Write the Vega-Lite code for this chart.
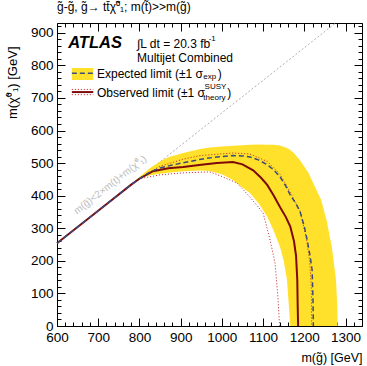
{
  "$schema": "https://vega.github.io/schema/vega-lite/v6.json",
  "width": 305,
  "height": 303,
  "autosize": {"type": "none"},
  "padding": {"left": 57, "top": 23, "right": 5, "bottom": 40},
  "background": "white",
  "title": {"text": "g̃-g̃, g̃→ tt̄χ̃⁰₁; m(t̃)>>m(g̃)", "anchor": "start", "frame": "group", "font": "Liberation Sans", "fontSize": 12, "fontWeight": "normal", "offset": 5, "color": "black"},
  "config": {"view": {"stroke": null}, "font": "Liberation Sans"},
  "datasets": {
    "diag": [{"x": 600, "y": 254}, {"x": 1276, "y": 930}],
    "band": [
      {"x": 785, "lo": 439, "hi": 439}, {"x": 801, "lo": 455, "hi": 459}, {"x": 826, "lo": 463, "hi": 485},
      {"x": 850, "lo": 467, "hi": 505}, {"x": 870, "lo": 470, "hi": 518}, {"x": 906, "lo": 475, "hi": 531},
      {"x": 947, "lo": 477, "hi": 543}, {"x": 971, "lo": 476, "hi": 548}, {"x": 1000, "lo": 466, "hi": 551},
      {"x": 1027, "lo": 448, "hi": 553}, {"x": 1050, "lo": 425, "hi": 555}, {"x": 1068, "lo": 408, "hi": 556},
      {"x": 1090, "lo": 375, "hi": 557}, {"x": 1110, "lo": 335, "hi": 556}, {"x": 1125, "lo": 295, "hi": 556},
      {"x": 1141, "lo": 243, "hi": 554}, {"x": 1150, "lo": 200, "hi": 550}, {"x": 1158, "lo": 141, "hi": 546},
      {"x": 1166, "lo": 0, "hi": 540}, {"x": 1175, "lo": 0, "hi": 530}, {"x": 1190, "lo": 0, "hi": 508},
      {"x": 1210, "lo": 0, "hi": 470}, {"x": 1225, "lo": 0, "hi": 430}, {"x": 1241, "lo": 0, "hi": 387},
      {"x": 1255, "lo": 0, "hi": 320}, {"x": 1267, "lo": 0, "hi": 240}, {"x": 1277, "lo": 0, "hi": 141},
      {"x": 1280, "lo": 0, "hi": 60}, {"x": 1281, "lo": 0, "hi": 0}
    ],
    "curves": [
      {"c": "exp", "x": 600, "y": 254}, {"c": "exp", "x": 700, "y": 354}, {"c": "exp", "x": 780, "y": 434},
      {"c": "exp", "x": 800, "y": 452}, {"c": "exp", "x": 825, "y": 472}, {"c": "exp", "x": 850, "y": 485},
      {"c": "exp", "x": 880, "y": 494}, {"c": "exp", "x": 906, "y": 501}, {"c": "exp", "x": 950, "y": 512},
      {"c": "exp", "x": 988, "y": 519}, {"c": "exp", "x": 1027, "y": 523}, {"c": "exp", "x": 1050, "y": 522},
      {"c": "exp", "x": 1068, "y": 519}, {"c": "exp", "x": 1090, "y": 509}, {"c": "exp", "x": 1110, "y": 495},
      {"c": "exp", "x": 1125, "y": 480}, {"c": "exp", "x": 1141, "y": 458}, {"c": "exp", "x": 1155, "y": 430},
      {"c": "exp", "x": 1166, "y": 402}, {"c": "exp", "x": 1180, "y": 375}, {"c": "exp", "x": 1190, "y": 350},
      {"c": "exp", "x": 1200, "y": 305}, {"c": "exp", "x": 1207, "y": 264}, {"c": "exp", "x": 1214, "y": 215},
      {"c": "exp", "x": 1219, "y": 172}, {"c": "exp", "x": 1221, "y": 89}, {"c": "exp", "x": 1222, "y": 0},
      {"c": "obs", "x": 600, "y": 254}, {"c": "obs", "x": 700, "y": 354}, {"c": "obs", "x": 780, "y": 434},
      {"c": "obs", "x": 800, "y": 452}, {"c": "obs", "x": 833, "y": 475}, {"c": "obs", "x": 870, "y": 484},
      {"c": "obs", "x": 906, "y": 488}, {"c": "obs", "x": 950, "y": 495}, {"c": "obs", "x": 988, "y": 500},
      {"c": "obs", "x": 1027, "y": 503}, {"c": "obs", "x": 1050, "y": 496}, {"c": "obs", "x": 1076, "y": 478},
      {"c": "obs", "x": 1095, "y": 455}, {"c": "obs", "x": 1110, "y": 433}, {"c": "obs", "x": 1125, "y": 402},
      {"c": "obs", "x": 1141, "y": 365}, {"c": "obs", "x": 1155, "y": 335}, {"c": "obs", "x": 1166, "y": 305},
      {"c": "obs", "x": 1175, "y": 260}, {"c": "obs", "x": 1180, "y": 215}, {"c": "obs", "x": 1183, "y": 141},
      {"c": "obs", "x": 1184, "y": 60}, {"c": "obs", "x": 1185, "y": 0},
      {"c": "up", "x": 780, "y": 434}, {"c": "up", "x": 800, "y": 454}, {"c": "up", "x": 850, "y": 490},
      {"c": "up", "x": 906, "y": 512}, {"c": "up", "x": 947, "y": 523}, {"c": "up", "x": 1027, "y": 531},
      {"c": "up", "x": 1068, "y": 528}, {"c": "up", "x": 1110, "y": 505}, {"c": "up", "x": 1141, "y": 466},
      {"c": "up", "x": 1166, "y": 410}, {"c": "up", "x": 1190, "y": 352}, {"c": "up", "x": 1205, "y": 270},
      {"c": "up", "x": 1213, "y": 200}, {"c": "up", "x": 1217, "y": 120}, {"c": "up", "x": 1218, "y": 0},
      {"c": "dn", "x": 780, "y": 434}, {"c": "dn", "x": 800, "y": 452}, {"c": "dn", "x": 850, "y": 464},
      {"c": "dn", "x": 906, "y": 470}, {"c": "dn", "x": 971, "y": 473}, {"c": "dn", "x": 996, "y": 461},
      {"c": "dn", "x": 1037, "y": 439}, {"c": "dn", "x": 1068, "y": 396}, {"c": "dn", "x": 1100, "y": 347},
      {"c": "dn", "x": 1117, "y": 264}, {"c": "dn", "x": 1129, "y": 193}, {"c": "dn", "x": 1136, "y": 89},
      {"c": "dn", "x": 1140, "y": 0}
    ],
    "legbox": [{"x": 636, "x2": 688, "y": 755, "y2": 792}],
    "leglines": [
      {"k": "exp", "x": 636, "x2": 688, "y": 776},
      {"k": "obs", "x": 636, "x2": 688, "y": 718},
      {"k": "up", "x": 636, "x2": 688, "y": 726},
      {"k": "dn", "x": 636, "x2": 688, "y": 710}
    ],
    "maintext": [
      {"x": 794, "y": 866, "t": "∫L dt = 20.3 fb"},
      {"x": 794, "y": 823, "t": "Multijet Combined"},
      {"x": 697, "y": 774, "t": "Expected limit (±1 σ"},
      {"x": 697, "y": 716, "t": "Observed limit (±1 σ"},
      {"x": 990, "y": 774, "t": ")"},
      {"x": 1013, "y": 716, "t": ")"}
    ],
    "smalltext": [
      {"x": 968, "y": 881, "t": "-1"},
      {"x": 955, "y": 763, "t": "exp"},
      {"x": 958, "y": 734, "t": "SUSY"},
      {"x": 955, "y": 699, "t": "theory"}
    ],
    "atlas": [{"x": 627, "y": 870, "t": "ATLAS"}],
    "diagtext": [{"x": 729, "y": 433, "t": "m(g̃)<2×m(t)+m(χ̃⁰₁)"}]
  },
  "layer": [
    {
      "data": {"name": "diag"},
      "mark": {"type": "line", "color": "#b0b0b0", "strokeWidth": 1, "strokeDash": [2, 2], "clip": true},
      "encoding": {
        "x": {"field": "x", "type": "quantitative", "scale": {"domain": [600, 1340], "nice": false, "zero": false},
          "axis": {"orient": "bottom", "values": [600,620,640,660,680,700,720,740,760,780,800,820,840,860,880,900,920,940,960,980,1000,1020,1040,1060,1080,1100,1120,1140,1160,1180,1200,1220,1240,1260,1280,1300,1320,1340],
            "labelExpr": "datum.value % 100 === 0 ? datum.label : ''",
            "tickSize": {"condition": {"test": "datum.value % 100 === 0", "value": -8}, "value": -4},
            "tickColor": "black", "domainColor": "black", "labelFont": "Liberation Sans", "labelFontSize": 13.5, "labelColor": "black",
            "labelPadding": 12, "labelOverlap": false, "labelFlush": false, "grid": false, "format": "d",
            "title": "m(g̃) [GeV]", "titleAnchor": "end", "titleFont": "Liberation Sans", "titleFontSize": 12.5, "titleFontWeight": "normal", "titleColor": "black", "titlePadding": 4}},
        "y": {"field": "y", "type": "quantitative", "scale": {"domain": [0, 930], "nice": false, "zero": false},
          "axis": {"orient": "left", "values": [0,20,40,60,80,100,120,140,160,180,200,220,240,260,280,300,320,340,360,380,400,420,440,460,480,500,520,540,560,580,600,620,640,660,680,700,720,740,760,780,800,820,840,860,880,900,920],
            "labelExpr": "datum.value % 100 === 0 ? datum.label : ''",
            "tickSize": {"condition": {"test": "datum.value % 100 === 0", "value": -8}, "value": -4},
            "tickColor": "black", "domainColor": "black", "labelFont": "Liberation Sans", "labelFontSize": 13.5, "labelColor": "black",
            "labelPadding": 12, "labelOverlap": false, "labelFlush": false, "grid": false, "format": "d",
            "title": "m(χ̃⁰₁) [GeV]", "titleAnchor": "end", "titleAlign": "right", "titleY": 23, "titleX": -45, "titleAngle": -90, "titleBaseline": "middle", "titleFont": "Liberation Sans", "titleFontSize": 13, "titleFontWeight": "normal", "titleColor": "black"}}
      }
    },
    {
      "data": {"name": "band"},
      "mark": {"type": "area", "color": "#ffe12b", "opacity": 1},
      "encoding": {
        "x": {"field": "x", "type": "quantitative",
          "axis": {"orient": "top", "values": [600,620,640,660,680,700,720,740,760,780,800,820,840,860,880,900,920,940,960,980,1000,1020,1040,1060,1080,1100,1120,1140,1160,1180,1200,1220,1240,1260,1280,1300,1320,1340],
            "labels": false, "title": null, "grid": false,
            "tickSize": {"condition": {"test": "datum.value % 100 === 0", "value": -8}, "value": -4},
            "tickColor": "black", "domainColor": "black"}},
        "y": {"field": "lo", "type": "quantitative",
          "axis": {"orient": "right", "values": [0,20,40,60,80,100,120,140,160,180,200,220,240,260,280,300,320,340,360,380,400,420,440,460,480,500,520,540,560,580,600,620,640,660,680,700,720,740,760,780,800,820,840,860,880,900,920],
            "labels": false, "title": null, "grid": false,
            "tickSize": {"condition": {"test": "datum.value % 100 === 0", "value": -8}, "value": -4},
            "tickColor": "black", "domainColor": "black"}},
        "y2": {"field": "hi"}
      }
    },
    {
      "data": {"name": "curves"},
      "transform": [{"filter": "datum.c === 'up' || datum.c === 'dn'"}],
      "mark": {"type": "line", "color": "#c81e1e", "strokeWidth": 1, "strokeDash": [1, 2]},
      "encoding": {
        "x": {"field": "x", "type": "quantitative", "axis": null},
        "y": {"field": "y", "type": "quantitative", "axis": null},
        "detail": {"field": "c"}
      }
    },
    {
      "data": {"name": "curves"},
      "transform": [{"filter": "datum.c === 'obs'"}],
      "mark": {"type": "line", "color": "#7d0a0a", "strokeWidth": 2},
      "encoding": {
        "x": {"field": "x", "type": "quantitative", "axis": null},
        "y": {"field": "y", "type": "quantitative", "axis": null}
      }
    },
    {
      "data": {"name": "curves"},
      "transform": [{"filter": "datum.c === 'exp'"}],
      "mark": {"type": "line", "color": "#3b4a7c", "strokeWidth": 1.5, "strokeDash": [5, 3]},
      "encoding": {
        "x": {"field": "x", "type": "quantitative", "axis": null},
        "y": {"field": "y", "type": "quantitative", "axis": null}
      }
    },
    {
      "data": {"name": "legbox"},
      "mark": {"type": "rect", "color": "#ffe12b"},
      "encoding": {
        "x": {"field": "x", "type": "quantitative", "axis": null},
        "x2": {"field": "x2"},
        "y": {"field": "y", "type": "quantitative", "axis": null},
        "y2": {"field": "y2"}
      }
    },
    {
      "data": {"name": "leglines"},
      "transform": [{"filter": "datum.k === 'exp'"}],
      "mark": {"type": "rule", "color": "#3b4a7c", "strokeWidth": 1.5, "strokeDash": [5, 3]},
      "encoding": {
        "x": {"field": "x", "type": "quantitative", "axis": null},
        "x2": {"field": "x2"},
        "y": {"field": "y", "type": "quantitative", "axis": null}
      }
    },
    {
      "data": {"name": "leglines"},
      "transform": [{"filter": "datum.k === 'obs'"}],
      "mark": {"type": "rule", "color": "#7d0a0a", "strokeWidth": 2},
      "encoding": {
        "x": {"field": "x", "type": "quantitative", "axis": null},
        "x2": {"field": "x2"},
        "y": {"field": "y", "type": "quantitative", "axis": null}
      }
    },
    {
      "data": {"name": "leglines"},
      "transform": [{"filter": "datum.k === 'up' || datum.k === 'dn'"}],
      "mark": {"type": "rule", "color": "#c81e1e", "strokeWidth": 1, "strokeDash": [1, 2]},
      "encoding": {
        "x": {"field": "x", "type": "quantitative", "axis": null},
        "x2": {"field": "x2"},
        "y": {"field": "y", "type": "quantitative", "axis": null}
      }
    },
    {
      "data": {"name": "maintext"},
      "mark": {"type": "text", "font": "Liberation Sans", "fontSize": 12, "color": "black", "align": "left", "baseline": "middle"},
      "encoding": {
        "x": {"field": "x", "type": "quantitative", "axis": null},
        "y": {"field": "y", "type": "quantitative", "axis": null},
        "text": {"field": "t"}
      }
    },
    {
      "data": {"name": "smalltext"},
      "mark": {"type": "text", "font": "Liberation Sans", "fontSize": 8, "color": "black", "align": "left", "baseline": "middle"},
      "encoding": {
        "x": {"field": "x", "type": "quantitative", "axis": null},
        "y": {"field": "y", "type": "quantitative", "axis": null},
        "text": {"field": "t"}
      }
    },
    {
      "data": {"name": "atlas"},
      "mark": {"type": "text", "font": "Liberation Sans", "fontSize": 16.5, "fontWeight": "bold", "fontStyle": "italic", "color": "black", "align": "left", "baseline": "middle"},
      "encoding": {
        "x": {"field": "x", "type": "quantitative", "axis": null},
        "y": {"field": "y", "type": "quantitative", "axis": null},
        "text": {"field": "t"}
      }
    },
    {
      "data": {"name": "diagtext"},
      "mark": {"type": "text", "font": "Liberation Sans", "fontSize": 10, "color": "#bdbdbd", "align": "center", "baseline": "middle", "angle": -38},
      "encoding": {
        "x": {"field": "x", "type": "quantitative", "axis": null},
        "y": {"field": "y", "type": "quantitative", "axis": null},
        "text": {"field": "t"}
      }
    }
  ],
  "resolve": {"axis": {"x": "independent", "y": "independent"}}
}
